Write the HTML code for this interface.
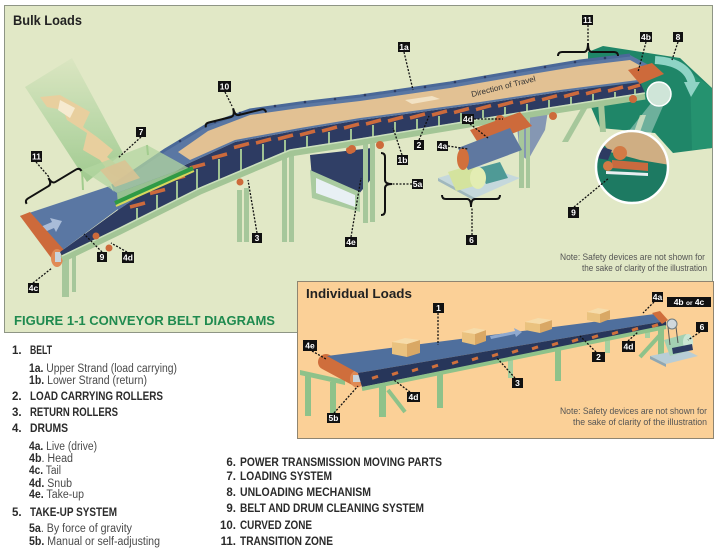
<!DOCTYPE html>
<html><head><meta charset="utf-8"><style>
html,body{margin:0;padding:0;background:#fff;}
svg{display:block;}
text{font-family:"Liberation Sans",Arial,sans-serif;}
.lb rect{fill:#111;}
.lb text{fill:#fff;font-weight:bold;font-size:8.5px;text-anchor:middle;}
.h{font-weight:bold;font-size:11.5px;fill:#2a2a2a;}
.n{font-weight:bold;font-size:11.5px;fill:#2a2a2a;text-anchor:end;}
.s{font-size:11.5px;fill:#4a4a4a;}
.s tspan{font-weight:bold;fill:#2a2a2a;}
.note{font-size:9.5px;fill:#555;}
</style></head><body>
<svg width="721" height="555" viewBox="0 0 721 555" xmlns="http://www.w3.org/2000/svg">
<defs>
<linearGradient id="chg" x1="0" y1="0" x2="0" y2="1">
<stop offset="0" stop-color="#a6cf98" stop-opacity="0.1"/>
<stop offset="0.5" stop-color="#a6cf98" stop-opacity="0.6"/>
<stop offset="1" stop-color="#94c485" stop-opacity="0.85"/>
</linearGradient>
<clipPath id="mag"><circle cx="632" cy="167" r="35"/></clipPath>
</defs>
<rect width="721" height="555" fill="#fff"/>
<!-- BULK PANEL -->
<rect x="4.5" y="5.5" width="708" height="327" fill="#e1e8c6" stroke="#8e9585"/>
<text x="13" y="25" font-weight="bold" font-size="13.5" fill="#222" textLength="69" lengthAdjust="spacingAndGlyphs">Bulk Loads</text>

<!-- chute -->
<polygon points="25,87 72,58 123,153 87,182" fill="url(#chg)"/>
<polygon points="40,97 60,95 90,112 83,127 97,137 113,150 107,157 120,167 138,178 127,183 110,173 100,160 83,150 87,133 67,120 63,110 47,107" fill="#e8cf9e"/>
<polygon points="60,100 75,108 70,118 58,110" fill="#f6ead0"/>

<!-- hood -->
<polygon points="588,52 603,46 680,58 712,88 712,148 673,153 655,133 600,128 588,100" fill="#1f8668"/>
<polygon points="690,72 712,88 712,148 692,150" fill="#25926f"/>
<path d="M655,60 Q688,62 692,84" stroke="#8fd4c5" stroke-width="8" fill="none"/>
<polygon points="684,82 700,82 691,97" fill="#8fd4c5"/>

<!-- take-up 5a -->
<polygon points="310,155 372,148 372,178 358,195 312,178" fill="#303f66"/>
<polygon points="310,170 360,192 360,212 312,198" fill="#a9cba0"/>
<polygon points="316,178 355,195 355,207 316,193" fill="#e8f0f4"/>
<circle cx="350" cy="150" r="4" fill="#cd6a3b"/>

<!-- gray chute -->
<polygon points="515,108 550,98 545,130 528,160 520,155" fill="#8597b3"/>

<!-- legs -->
<g fill="#a6c79b">
<rect x="237" y="190" width="5" height="52"/><rect x="244" y="188" width="5" height="54"/>
<rect x="282" y="150" width="5" height="92"/><rect x="289" y="150" width="5" height="92"/>
<rect x="363" y="138" width="5" height="85"/><rect x="370" y="136" width="5" height="86"/>
<rect x="519" y="110" width="5" height="78"/><rect x="526" y="108" width="4" height="80"/>
<rect x="62" y="255" width="7" height="42"/><rect x="72" y="252" width="4" height="40"/>
<polygon points="586,100 592,100 568,142 562,142"/>
<polygon points="598,102 604,102 606,132 600,132"/>
<polygon points="640,115 646,115 640,132 634,132"/>
</g>

<!-- lower tail belt -->
<polygon points="20,216 110,186 122,206 60,252" fill="#5a77a3"/>
<polygon points="38,228 52,222 50,218 62,221 56,232 54,228 40,234" fill="#a9bcd8"/>
<polygon points="20,216 30,212 64,250 55,263" fill="#cd6a3b"/>
<ellipse cx="57" cy="258" rx="6" ry="9" fill="#e08a55"/>
<rect x="55" y="252" width="6" height="10" fill="#c8d4dc"/>

<!-- dark under band -->
<polygon points="60,252 118,210 185,165 235,142 300,130 360,120 480,104 560,92 640,82 645,93 530,111 360,139 290,150 200,188 120,228 62,256" fill="#2d3b62"/>
<g stroke="#9fc293" stroke-width="2">
<line x1="137" y1="208" x2="137" y2="219.5"/><line x1="157" y1="195" x2="157" y2="209.5"/><line x1="177" y1="181" x2="177" y2="199.5"/><line x1="197" y1="169" x2="197" y2="189.5"/><line x1="219" y1="159" x2="219" y2="180"/><line x1="241" y1="149" x2="241" y2="170.7"/><line x1="263" y1="144" x2="263" y2="161.4"/><line x1="285" y1="140" x2="285" y2="152"/><line x1="307" y1="136" x2="307" y2="147"/><line x1="329" y1="132" x2="329" y2="144"/><line x1="351" y1="129" x2="351" y2="140"/><line x1="373" y1="125" x2="373" y2="137"/><line x1="395" y1="122" x2="395" y2="133"/><line x1="417" y1="119" x2="417" y2="129.6"/><line x1="439" y1="116" x2="439" y2="126"/><line x1="461" y1="113" x2="461" y2="122"/><line x1="483" y1="110" x2="483" y2="118.7"/><line x1="505" y1="107" x2="505" y2="115"/><line x1="527" y1="104" x2="527" y2="111.4"/><line x1="549" y1="100" x2="549" y2="108"/><line x1="571" y1="97" x2="571" y2="104.6"/><line x1="593" y1="94" x2="593" y2="101"/><line x1="615" y1="92" x2="615" y2="97.7"/><line x1="635" y1="89" x2="635" y2="94.5"/>
</g>
<g stroke="#cc6a3c" stroke-width="3.5">
<line x1="130" y1="207" x2="145" y2="203"/><line x1="150" y1="193.5" x2="165" y2="189.5"/><line x1="170" y1="180" x2="185" y2="176"/><line x1="190" y1="168" x2="205" y2="164"/><line x1="212" y1="158" x2="227" y2="154"/><line x1="234" y1="147.5" x2="249" y2="143.5"/><line x1="256" y1="143" x2="271" y2="139"/><line x1="278" y1="139" x2="293" y2="135"/><line x1="300" y1="135" x2="315" y2="131"/><line x1="322" y1="131" x2="337" y2="127"/><line x1="344" y1="128" x2="359" y2="124"/><line x1="366" y1="124" x2="381" y2="120"/><line x1="388" y1="121" x2="403" y2="117"/><line x1="410" y1="118" x2="425" y2="114"/><line x1="432" y1="115" x2="447" y2="111"/><line x1="454" y1="112.5" x2="469" y2="108.5"/><line x1="476" y1="109.6" x2="491" y2="105.6"/><line x1="498" y1="106" x2="513" y2="102"/><line x1="520" y1="103" x2="535" y2="99"/><line x1="542" y1="99.7" x2="557" y2="95.7"/><line x1="564" y1="96.5" x2="579" y2="92.5"/><line x1="586" y1="93.75" x2="601" y2="89.75"/><line x1="608" y1="91" x2="623" y2="87"/><line x1="628" y1="88.5" x2="640" y2="85"/>
</g>

<!-- rail -->
<path d="M62,259 L120,231 L200,191 L290,153 L360,142 L530,114 L645,96" stroke="#a3c596" stroke-width="7" fill="none"/>
<path d="M62,256 L120,228 L200,188 L290,150 L360,139 L530,111 L645,93" stroke="#cbe0bd" stroke-width="1.5" fill="none"/>
<g fill="#cd6a3b">
<circle cx="352" cy="149" r="4"/><circle cx="380" cy="145" r="4"/><circle cx="503" cy="124" r="4"/><circle cx="553" cy="116" r="4"/><circle cx="633" cy="99" r="4"/><circle cx="96" cy="236" r="3.5"/><circle cx="109" cy="248" r="3.5"/><circle cx="240" cy="182" r="3.5"/>
</g>

<!-- main belt -->
<polygon points="112,186 165,150 205,126 250,110 300,103 360,96 450,83 520,71 580,61 630,55 658,70 640,82 560,92 480,104 360,120 300,130 235,142 185,165 118,210" fill="#5a77a3"/>
<polygon points="178,152 208,131 250,115 300,108 360,101 450,88 520,76 580,66 630,60 652,72 638,80 560,90 480,102 360,118 300,128 235,140 190,160" fill="#e2c193"/>
<polygon points="405,100 432,96 440,99 412,104" fill="#f2e2c4"/>
<polyline points="112,186 165,150 205,126 250,110 300,103 360,96 450,83 520,71 580,61 630,55" stroke="#4a6898" stroke-width="3" fill="none"/>
<g fill="#2d3b62">
<circle cx="180" cy="141" r="1.3"/><circle cx="215" cy="122" r="1.3"/><circle cx="240" cy="113" r="1.3"/><circle cx="275" cy="106" r="1.3"/><circle cx="305" cy="102" r="1.3"/><circle cx="335" cy="99" r="1.3"/><circle cx="365" cy="95" r="1.3"/><circle cx="395" cy="91" r="1.3"/><circle cx="425" cy="87" r="1.3"/><circle cx="455" cy="82" r="1.3"/><circle cx="485" cy="77" r="1.3"/><circle cx="515" cy="72" r="1.3"/><circle cx="545" cy="67" r="1.3"/><circle cx="575" cy="62" r="1.3"/><circle cx="605" cy="58" r="1.3"/>
</g>
<text transform="translate(472,97) rotate(-14)" font-size="8" fill="#333" textLength="66" lengthAdjust="spacingAndGlyphs">Direction of Travel</text>
<polygon points="628,70 652,63 664,74 640,84" fill="#cd6a3b"/>

<!-- hopper -->
<polygon points="82,170 147,145 187,167 117,193" fill="#b3d6a0" opacity="0.75"/>
<polygon points="100,170 125,160 140,178 115,187" fill="#d9c394" opacity="0.9"/>
<polygon points="117,193 187,167 193,170 118,206" fill="#a2cc8e" opacity="0.85"/>
<line x1="115" y1="203" x2="193" y2="168" stroke="#2f9a45" stroke-width="4"/>
<line x1="116" y1="206" x2="194" y2="171" stroke="#d8d85a" stroke-width="2"/>
<line x1="82" y1="170" x2="83" y2="190" stroke="#a2cc8e" stroke-width="2"/>
<line x1="147" y1="145" x2="148" y2="155" stroke="#a2cc8e" stroke-width="2"/>

<!-- drive -->
<polygon points="438,178 480,165 520,178 475,198" fill="#c5d8dc"/>
<polygon points="438,178 475,198 475,201 438,181" fill="#a0b8be"/>
<polygon points="478,168 500,162 508,178 486,184" fill="#4f9a96"/>
<polygon points="448,172 474,164 482,184 456,191" fill="#d4e39e"/>
<ellipse cx="478" cy="178" rx="8" ry="11" fill="#e3edb3"/>
<polygon points="470,130 520,112 532,126 480,146" fill="#cd6a3b"/>
<polygon points="458,148 510,128 522,150 468,170" fill="#5f78a0"/>
<ellipse cx="463" cy="159" rx="6" ry="11" fill="#d2703c"/>
<circle cx="500" cy="120" r="5" fill="#cd6a3b"/>

<!-- magnifier -->
<polygon points="652,102 664,104 650,136 628,132" fill="#ffffff" opacity="0.35"/>
<circle cx="632" cy="167" r="36" fill="#1d7a62"/>
<g clip-path="url(#mag)">
<polygon points="596,135 640,130 670,148 670,165 640,160 610,152" fill="#cfae83"/>
<polygon points="596,145 612,150 608,160 596,158" fill="#2d3b62"/>
<polygon points="612,160 648,163 648,171 612,168" fill="#c96a3f"/>
<circle cx="620" cy="153" r="7" fill="#d27a45"/>
<circle cx="608" cy="166" r="5" fill="#d27a45"/>
<polygon points="606,171 648,173 648,176 606,174" fill="#e8eef0"/>
</g>
<circle cx="632" cy="167" r="36" fill="none" stroke="#fff" stroke-width="2.5"/>
<circle cx="659" cy="94" r="12" fill="#cfe5d8" stroke="#fff" stroke-width="1.5"/>

<!-- braces -->
<g stroke="#111" stroke-width="2" fill="none">
<path transform="translate(52,184) rotate(-31)" d="M-32,4 Q-32,0 -28,0 L-4,0 Q0,0 0,-7 Q0,0 4,0 L28,0 Q32,0 32,4"/>
<path transform="translate(235,116) rotate(-14)" d="M-31,4 Q-31,0 -27,0 L-4,0 Q0,0 0,-8 Q0,0 4,0 L27,0 Q31,0 31,4"/>
<path transform="translate(588,52)" d="M-30,4 Q-30,0 -26,0 L-4,0 Q0,0 0,-9 Q0,0 4,0 L26,0 Q30,0 30,4"/>
<path transform="translate(385,184) rotate(90)" d="M-31,4 Q-31,0 -27,0 L-4,0 Q0,0 0,-7 Q0,0 4,0 L27,0 Q31,0 31,4"/>
<path transform="translate(471,199) rotate(180)" d="M-29,4 Q-29,0 -25,0 L-4,0 Q0,0 0,-8 Q0,0 4,0 L25,0 Q29,0 29,4"/>
</g>

<text class="note" x="560" y="260" textLength="145" lengthAdjust="spacingAndGlyphs">Note: Safety devices are not shown for</text>
<text class="note" x="582" y="271" textLength="125" lengthAdjust="spacingAndGlyphs">the sake of clarity of the illustration</text>

<text x="14" y="325" font-weight="bold" font-size="13" fill="#1f8a4f" textLength="261" lengthAdjust="spacingAndGlyphs">FIGURE 1-1  CONVEYOR BELT DIAGRAMS</text>

<!-- INDIVIDUAL PANEL -->
<rect x="297.5" y="281.5" width="416" height="157" fill="#fbd097" stroke="#8f8571"/>
<text x="306" y="298" font-weight="bold" font-size="13" fill="#222" textLength="106" lengthAdjust="spacingAndGlyphs">Individual Loads</text>

<g fill="#a5d09f">
<rect x="508" y="348" width="5" height="30"/><rect x="605" y="333" width="5" height="20"/><rect x="645" y="322" width="5" height="16"/>
</g>
<g fill="#8ec28a">
<polygon points="300,370 345,380 345,385 300,375"/>
<rect x="305" y="374" width="6" height="42"/><rect x="330" y="382" width="6" height="36"/>
<rect x="379" y="384" width="7" height="33"/><rect x="437" y="374" width="6" height="34"/>
<rect x="555" y="350" width="6" height="31"/><rect x="658" y="325" width="6" height="34"/>
</g>
<line x1="388" y1="390" x2="405" y2="412" stroke="#8ec28a" stroke-width="4"/>
<line x1="660" y1="335" x2="640" y2="357" stroke="#8ec28a" stroke-width="4"/>

<line x1="326" y1="362" x2="356" y2="378" stroke="#cf6e3c" stroke-width="16" stroke-linecap="round"/>
<ellipse cx="357" cy="379" rx="7" ry="8.5" fill="#df8a55"/>
<rect x="353" y="375" width="8" height="7" fill="#c8d4dc"/>

<polygon points="327,356 655,314 666,321 358,373" fill="#4f6f9d"/>
<polygon points="358,373 666,321 666,326 362,387" fill="#27365a"/>
<line x1="362" y1="389" x2="666" y2="327" stroke="#8ec28a" stroke-width="4"/>
<g stroke="#d0703c" stroke-width="3">
<line x1="372" y1="378.3" x2="378" y2="376.3"/><line x1="392" y1="374.6" x2="398" y2="372.6"/><line x1="412" y1="370.9" x2="418" y2="368.9"/><line x1="432" y1="367.2" x2="438" y2="365.2"/><line x1="452" y1="363.5" x2="458" y2="361.5"/><line x1="472" y1="359.8" x2="478" y2="357.8"/><line x1="492" y1="356.1" x2="498" y2="354.1"/><line x1="512" y1="352.4" x2="518" y2="350.4"/><line x1="532" y1="348.8" x2="538" y2="346.8"/><line x1="552" y1="345.1" x2="558" y2="343.1"/><line x1="572" y1="341.4" x2="578" y2="339.4"/><line x1="592" y1="337.7" x2="598" y2="335.7"/><line x1="612" y1="334" x2="618" y2="332"/><line x1="632" y1="330.3" x2="638" y2="328.3"/><line x1="652" y1="326.6" x2="658" y2="324.6"/>
</g>
<polygon points="652,313 660,311 668,320 662,324" fill="#cf6e3c"/>
<polygon points="490,336 515,331 514,328 522,332 516,337 515,334 491,339" fill="#8fa9cf"/>

<!-- boxes -->
<g>
<polygon points="392,342 407,344 407,357 392,354" fill="#eac27f"/><polygon points="407,344 420,340 420,353 407,357" fill="#d9a865"/><polygon points="392,342 405,338 420,340 407,344" fill="#f6dcaa"/>
<polygon points="462,332 475,334 475,345 462,342" fill="#eac27f"/><polygon points="475,334 486,330 486,341 475,345" fill="#d9a865"/><polygon points="462,332 474,328 486,330 475,334" fill="#f6dcaa"/>
<polygon points="525,322 540,324 540,333 525,330" fill="#eac27f"/><polygon points="540,324 552,320 552,329 540,333" fill="#d9a865"/><polygon points="525,322 538,318 552,320 540,324" fill="#f6dcaa"/>
<polygon points="587,312 600,314 600,323 587,320" fill="#eac27f"/><polygon points="600,314 610,310 610,319 600,323" fill="#d9a865"/><polygon points="587,312 598,308 610,310 600,314" fill="#f6dcaa"/>
</g>

<!-- right drive -->
<polygon points="650,356 684,349 698,356 666,364" fill="#b8cdd6"/>
<polygon points="650,356 666,364 666,367 650,359" fill="#8fa7b3"/>
<polygon points="664,340 686,334 692,350 670,356" fill="#a3d0b2"/>
<ellipse cx="688" cy="342" rx="5" ry="8" fill="#cbe6d3"/>
<polygon points="672,348 692,344 693,350 673,354" fill="#2d3b62"/>
<line x1="668" y1="327" x2="670" y2="345" stroke="#555" stroke-width="1"/>
<line x1="676" y1="327" x2="678" y2="343" stroke="#555" stroke-width="1"/>
<circle cx="672" cy="324" r="5" fill="#d0d8dc" stroke="#6b7a80"/>

<text class="note" x="560" y="414" textLength="147" lengthAdjust="spacingAndGlyphs">Note: Safety devices are not shown for</text>
<text class="note" x="573" y="425" textLength="134" lengthAdjust="spacingAndGlyphs">the sake of clarity of the illustration</text>

<!-- leaders -->
<path stroke="#111" stroke-width="1.3" stroke-dasharray="2 1.5" fill="none" d="M36,162 L49,177 M141,137 L118,158 M225,92 L232,106 M257,233 L248,180 M102,252 L84,234 M127,252 L111,243 M33,283 L52,268 M404,52 L413,90 M402,155 L393,128 M419,140 L429,116 M412,184 L392,184 M351,237 L361,178 M474,119 L503,119 M470,124 L488,138 M448,146 L468,149 M472,235 L472,208 M588,25 L588,42 M646,42 L638,72 M678,42 L672,60 M574,207 L609,178 M438,313 L438,345 M654,302 L643,313 M700,332 L688,340 M312,351 L326,359 M596,352 L580,336 M628,341 L638,332 M515,378 L497,358 M410,392 L394,380 M334,413 L358,386"/>

<!-- labels -->
<g class="lb">
<rect x="31" y="151" width="11" height="11"/><text x="36.5" y="159.5">11</text>
<rect x="136" y="127" width="10" height="10"/><text x="141" y="135">7</text>
<rect x="218" y="81" width="13" height="11"/><text x="224.5" y="89.5">10</text>
<rect x="252" y="233" width="10" height="10"/><text x="257" y="241">3</text>
<rect x="97" y="252" width="10" height="10"/><text x="102" y="260">9</text>
<rect x="122" y="252" width="12" height="11"/><text x="128" y="260.5">4d</text>
<rect x="28" y="283" width="11" height="10"/><text x="33.5" y="291">4c</text>
<rect x="345" y="237" width="12" height="10"/><text x="351" y="245">4e</text>
<rect x="397" y="155" width="11" height="10"/><text x="402.5" y="163">1b</text>
<rect x="414" y="140" width="10" height="10"/><text x="419" y="148">2</text>
<rect x="412" y="179" width="11" height="10"/><text x="417.5" y="187">5a</text>
<rect x="462" y="114" width="12" height="10"/><text x="468" y="122">4d</text>
<rect x="437" y="141" width="11" height="10"/><text x="442.5" y="149">4a</text>
<rect x="466" y="235" width="11" height="10"/><text x="471.5" y="243">6</text>
<rect x="398" y="42" width="12" height="10"/><text x="404" y="50">1a</text>
<rect x="582" y="15" width="11" height="10"/><text x="587.5" y="23">11</text>
<rect x="640" y="32" width="12" height="10"/><text x="646" y="40">4b</text>
<rect x="673" y="32" width="10" height="10"/><text x="678" y="40">8</text>
<rect x="568" y="207" width="11" height="11"/><text x="573.5" y="215.5">9</text>
<rect x="433" y="303" width="11" height="10"/><text x="438.5" y="311">1</text>
<rect x="652" y="292" width="11" height="10"/><text x="657.5" y="300">4a</text>
<rect x="667" y="297" width="44" height="10"/><text x="689" y="305">4b <tspan font-size="6.5">or</tspan> 4c</text>
<rect x="696" y="322" width="12" height="10"/><text x="702" y="330">6</text>
<rect x="303" y="340" width="14" height="11"/><text x="310" y="348.5">4e</text>
<rect x="592" y="352" width="13" height="10"/><text x="598.5" y="360">2</text>
<rect x="622" y="341" width="13" height="11"/><text x="628.5" y="349.5">4d</text>
<rect x="512" y="378" width="11" height="10"/><text x="517.5" y="386">3</text>
<rect x="407" y="392" width="13" height="10"/><text x="413.5" y="400">4d</text>
<rect x="327" y="413" width="13" height="10"/><text x="333.5" y="421">5b</text>
</g>

<!-- legend -->
<text class="h" x="12" y="354">1.</text><text class="h" x="30" y="354" textLength="22" lengthAdjust="spacingAndGlyphs">BELT</text>
<text class="s" x="29" y="372" textLength="148" lengthAdjust="spacingAndGlyphs"><tspan>1a.</tspan> Upper Strand (load carrying)</text>
<text class="s" x="29" y="384" textLength="118" lengthAdjust="spacingAndGlyphs"><tspan>1b.</tspan> Lower Strand (return)</text>
<text class="h" x="12" y="400">2.</text><text class="h" x="30" y="400" textLength="133" lengthAdjust="spacingAndGlyphs">LOAD CARRYING ROLLERS</text>
<text class="h" x="12" y="416">3.</text><text class="h" x="30" y="416" textLength="88" lengthAdjust="spacingAndGlyphs">RETURN ROLLERS</text>
<text class="h" x="12" y="432">4.</text><text class="h" x="30" y="432" textLength="38" lengthAdjust="spacingAndGlyphs">DRUMS</text>
<text class="s" x="29" y="450" textLength="68" lengthAdjust="spacingAndGlyphs"><tspan>4a.</tspan> Live (drive)</text>
<text class="s" x="29" y="462" textLength="44" lengthAdjust="spacingAndGlyphs"><tspan>4b</tspan>. Head</text>
<text class="s" x="29" y="474" textLength="32" lengthAdjust="spacingAndGlyphs"><tspan>4c.</tspan> Tail</text>
<text class="s" x="29" y="487" textLength="43" lengthAdjust="spacingAndGlyphs"><tspan>4d.</tspan> Snub</text>
<text class="s" x="29" y="498" textLength="55" lengthAdjust="spacingAndGlyphs"><tspan>4e.</tspan> Take-up</text>
<text class="h" x="12" y="516">5.</text><text class="h" x="30" y="516" textLength="87" lengthAdjust="spacingAndGlyphs">TAKE-UP SYSTEM</text>
<text class="s" x="29" y="532" textLength="103" lengthAdjust="spacingAndGlyphs"><tspan>5a</tspan>. By force of gravity</text>
<text class="s" x="29" y="545" textLength="131" lengthAdjust="spacingAndGlyphs"><tspan>5b.</tspan> Manual or self-adjusting</text>

<text class="n" x="236" y="466">6.</text><text class="h" x="240" y="466" textLength="202" lengthAdjust="spacingAndGlyphs">POWER TRANSMISSION MOVING PARTS</text>
<text class="n" x="236" y="480">7.</text><text class="h" x="240" y="480" textLength="92" lengthAdjust="spacingAndGlyphs">LOADING SYSTEM</text>
<text class="n" x="236" y="496">8.</text><text class="h" x="240" y="496" textLength="131" lengthAdjust="spacingAndGlyphs">UNLOADING MECHANISM</text>
<text class="n" x="236" y="512">9.</text><text class="h" x="240" y="512" textLength="184" lengthAdjust="spacingAndGlyphs">BELT AND DRUM CLEANING SYSTEM</text>
<text class="n" x="236" y="529">10.</text><text class="h" x="240" y="529" textLength="72" lengthAdjust="spacingAndGlyphs">CURVED ZONE</text>
<text class="n" x="236" y="545">11.</text><text class="h" x="240" y="545" textLength="93" lengthAdjust="spacingAndGlyphs">TRANSITION ZONE</text>
</svg>
</body></html>
